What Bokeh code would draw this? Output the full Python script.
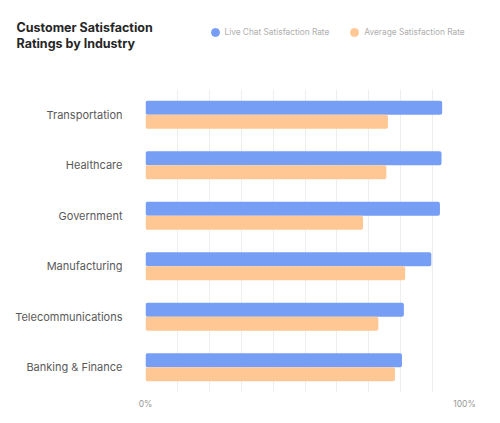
from bokeh.plotting import figure
from bokeh.layouts import column
from bokeh.models import (ColumnDataSource, FactorRange, Range1d, FixedTicker,
                          Label, Legend, LegendItem, CustomJSTickFormatter)
from bokeh.transform import dodge
from bokeh.embed import file_html
from bokeh.resources import INLINE

industries = ["Transportation", "Healthcare", "Government", "Manufacturing",
              "Telecommunications", "Banking & Finance"]
live_chat = [93.0, 92.8, 92.3, 89.6, 81.0, 80.4]
average = [76.0, 75.5, 68.2, 81.4, 73.0, 78.2]
series_names = ["Live Chat Satisfaction Rate", "Average Satisfaction Rate"]
title_lines = ["Customer Satisfaction", "Ratings by Industry"]
x_ticks = [0, 100]
grid_ticks = [0, 10, 20, 30, 40, 50, 60, 70, 80, 90, 100]

BLUE = "#779ef5"
ORANGE = "#fec794"
FONT = "Inter"
W = 500
HEADER_H = 89
NAN = float("nan")

# ---------- header (title + legend) ----------
h = figure(width=W, height=HEADER_H, output_backend="svg", toolbar_location=None,
           x_range=Range1d(0, W), y_range=Range1d(0, HEADER_H),
           x_axis_type=None, y_axis_type=None, title=None,
           min_border=0, min_border_left=0, min_border_right=0,
           min_border_top=0, min_border_bottom=0)
h.frame_align = False
h.outline_line_color = None
h.xgrid.grid_line_color = None
h.ygrid.grid_line_color = None

for txt, y in zip(title_lines, [62.3, 45.7]):
    h.add_layout(Label(x=16, y=y, x_units="screen", y_units="screen", text=txt,
                       text_font=FONT, text_font_size="12.5px", text_font_style="bold",
                       text_color="#262626", text_baseline="alphabetic"))

# legend-only renderers (no visible data point; only their legend swatch is drawn)
d1 = h.scatter(x=[NAN], y=[NAN], marker="circle", color=BLUE, size=8)
d2 = h.scatter(x=[NAN], y=[NAN], marker="circle", color=ORANGE, size=8)
legend = Legend(items=[LegendItem(label=series_names[0], renderers=[d1]),
                       LegendItem(label=series_names[1], renderers=[d2])],
                orientation="horizontal", location=(204.5, 47),
                padding=0, margin=0, spacing=15, label_standoff=0,
                glyph_width=20, glyph_height=20,
                label_text_font=FONT, label_text_font_size="8.3px",
                label_text_color="#aeaeae",
                border_line_alpha=0, background_fill_alpha=0)
h.add_layout(legend, "center")

# ---------- main chart ----------
src = ColumnDataSource(dict(ind=industries, live=live_chat, avg=average))

p = figure(width=W, height=423 - HEADER_H, output_backend="svg", toolbar_location=None,
           y_range=FactorRange(*industries[::-1], range_padding=0),
           x_range=Range1d(0, 100), title=None,
           min_border_left=145, min_border_right=36,
           min_border_top=0, min_border_bottom=31)
p.frame_align = False
p.outline_line_color = None

bh = 0.277
p.hbar(y=dodge("ind", bh / 2, range=p.y_range), right="live", left=0, height=bh,
       source=src, color=BLUE, line_color=None, border_radius=2)
p.hbar(y=dodge("ind", -bh / 2, range=p.y_range), right="avg", left=0, height=bh,
       source=src, color=ORANGE, line_color=None, border_radius=2)

p.xaxis.ticker = FixedTicker(ticks=x_ticks)
p.xaxis.formatter = CustomJSTickFormatter(code="return tick + '%';")
p.xaxis.axis_line_color = None
p.xaxis.major_tick_line_color = None
p.xaxis.minor_tick_line_color = None
p.xaxis.major_tick_out = 0
p.xaxis.major_tick_in = 0
p.xaxis.major_label_text_font = FONT
p.xaxis.major_label_text_font_size = "8.5px"
p.xaxis.major_label_text_color = "#999999"
p.xaxis.major_label_standoff = 6

p.yaxis.axis_line_color = None
p.yaxis.major_tick_line_color = None
p.yaxis.minor_tick_line_color = None
p.yaxis.major_tick_out = 0
p.yaxis.major_tick_in = 0
p.yaxis.major_label_text_font = FONT
p.yaxis.major_label_text_font_size = "11px"
p.yaxis.major_label_text_color = "#595959"
p.yaxis.major_label_standoff = 23

p.ygrid.grid_line_color = None
p.xgrid.ticker = FixedTicker(ticks=grid_ticks)
p.xgrid.grid_line_color = "#eeeeee"
p.xgrid.grid_line_width = 1

layout = column(h, p, spacing=0)
open("out.html", "w").write(file_html(layout, INLINE))
